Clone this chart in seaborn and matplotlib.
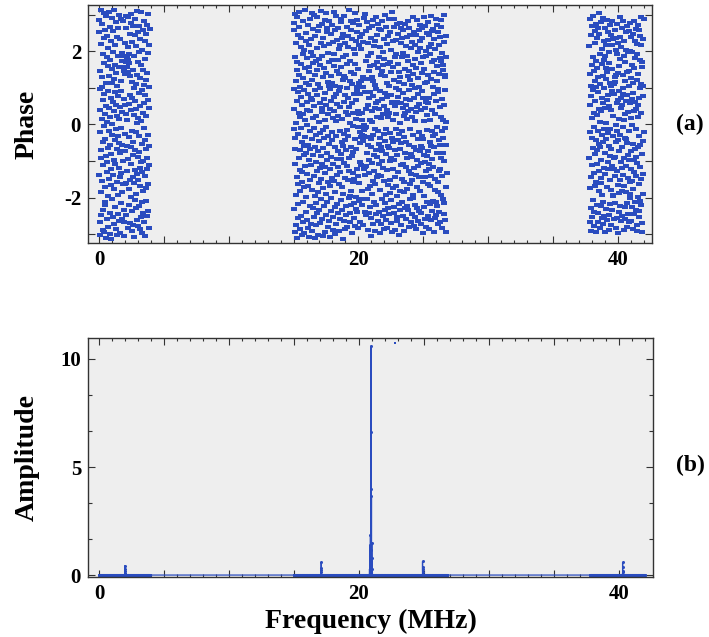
import numpy as np
import pandas as pd
import seaborn as sns
import matplotlib.pyplot as plt
from matplotlib.ticker import MultipleLocator, FixedLocator, FuncFormatter

# frequency bands that carry data (MHz)
band_start = [0.0, 15.0, 37.8]
band_stop = [3.9, 26.8, 42.0]

# phase values (rad), one per frequency bin of each band, read in order
phase_band1 = """
-1.37 2.84 2.51 -0.22 0.97 -2.66 -3.01 1.45 0.38 -1.84
2.19 -0.71 -0.93 -2.47 3.11 1.02 1.28 -1.56 0.14 2.73
-2.88 -2.35 0.66 1.91 -0.48 -1.12 2.36 3.04 -0.05 -2.94
0.83 1.67 -1.71 -0.39 2.58 -2.21 -2.12 0.29 1.14 -3.09
2.97 -0.86 0.51 -1.29 -1.03 1.83 2.42 -2.58 0.07 -0.64
1.59 2.09 -2.79 -1.95 0.92 -0.18 3.07 0.44 -1.48 1.33
-0.57 -2.41 -2.99 1.76 2.66 0.19 -1.21 -0.81 2.27 -1.66
0.71 -3.12 1.12 2.91 -0.29 -2.03 1.51 0.02 -1.39 2.55
-2.52 0.61 1.98 -0.97 -1.77 3.13 0.36 -2.71 1.24 -0.42
2.18 -1.09 -2.26 0.88 1.63 -0.13 -2.87 2.79 0.53 1.41
-1.58 -0.66 2.39 -3.03 0.24 1.05 -1.92 2.62 -0.33 -2.44
1.88 0.77 -1.18 -2.63 2.98 -0.51 0.15 1.57 -1.43 -2.96
0.47 2.32 -0.79 1.19 -2.16 -1.34 2.87 0.91 -0.09 -1.86
1.72 -0.55 -2.58 1.94 0.33 -1.63 -0.74 2.81 1.56 -1.01
1.46 -2.33 0.69 -2.68 1.88 -3.06 0.52 2.21 -0.26 1.37
-0.74 -1.63 2.95 1.69 -1.61 -2.48 0.27 2.64 1.83 -0.58
-1.27 1.58 0.12 2.11 -2.82 1.43 -0.94 1.76 2.94 -1.76
0.56 -2.19 1.92 -0.35 1.67 -1.53 2.48 0.81 -2.69 1.31
-0.62 2.77 -1.99 0.39 -1.08 3.02 -2.37 1.16 -0.17 -2.91
2.24 0.73 -1.45 -0.85 1.49 -2.74 2.68 -0.47 0.98 -1.61
-3.08 1.86 0.26 -2.07 2.45 -1.24 0.64 -0.69 2.89 -2.29
1.09 -1.91 0.41 2.15 -0.21 -2.61 1.35 -1.36 3.09 0.04
-0.88 -2.77 1.71 2.53 -1.52 0.18 -2.24 0.85 1.97 -0.76
2.69 -0.31 -1.19 -2.85 1.26 0.49 -1.69 2.34 -2.54 0.09
-1.04 1.61 3.06 -0.54 -2.13 0.94 2.02 -1.31 -2.97 1.48
0.31 -0.99 2.59 -1.81 -2.42 1.07 -0.11 2.83 -2.68 0.59
1.78 -1.41 -0.43 2.29 -3.04 0.79 1.21 -2.09 -0.68 2.47
-1.73 0.22 -2.51 1.39 2.71 -0.91 -1.22 0.67 3.01 -2.36
1.96 -0.28 -1.64 0.46 -2.83 2.16 -1.11 1.03 -0.59 2.61
"""

phase_band2 = """
0.42 0.97 -2.31 2.76 2.58 -0.14 1.83 -2.95 -1.07 3.02
-0.66 -0.38 1.19 -1.92 -2.74 2.21 0.05 0.63 -3.11 1.48
2.93 1.71 -1.45 -1.62 0.88 -0.27 2.44 -2.18 -2.56 0.31
-0.92 1.36 3.08 2.67 -1.24 -0.71 -2.87 1.02 0.19 -1.83
1.64 -2.49 -0.09 0.76 2.12 2.35 -1.58 -3.03 0.54 -0.48
-1.31 0.28 1.92 -2.66 -2.11 1.27 2.81 -0.59 -0.83 2.04
0.94 -1.72 -2.97 0.13 1.55 -0.35 -1.14 3.12 2.49 -2.39
2.27 1.13 -0.77 -1.98 0.61 -2.62 0.39 -1.36 1.81 -0.02
-2.83 2.72 0.84 -0.56 -1.69 1.44 -3.07 2.16 1.07 -0.97
1.58 -0.19 -2.24 2.87 0.36 -1.51 -0.68 1.99 -2.71 0.72
-1.12 2.33 1.21 -2.92 -0.41 0.67 3.05 -1.79 -2.28 1.67
0.17 -0.84 2.61 1.86 -1.41 -2.53 0.49 -0.11 2.98 -3.10
1.34 -1.95 -0.62 0.93 2.41 -2.15 -1.03 1.73 0.24 -2.76
-0.29 2.92 1.49 -1.27 -2.43 0.81 2.09 -0.73 -1.86 1.11
2.55 -3.01 0.07 -1.61 1.78 2.68 -0.46 -2.34 0.58 -1.19
-2.69 1.62 0.99 -0.24 -1.49 2.23 3.09 -2.05 -0.87 0.44
1.87 0.33 -2.58 -1.08 2.74 -0.65 1.29 -3.06 2.37 -0.16
-1.74 0.69 2.14 1.53 -2.22 -0.37 -1.17 2.85 0.12 -2.94
0.86 -1.33 -0.06 3.04 1.41 -2.47 -1.91 0.52 2.62 -0.78
-2.13 2.51 -0.98 0.27 -1.57 1.16 1.94 -2.81 -0.32 2.19
1.05 -0.53 -2.64 1.69 2.83 0.41 -1.22 -3.08 0.96 -1.68
2.46 -2.02 0.64 -0.89 1.32 -2.37 2.71 1.76 -0.22 -1.46
-0.43 1.12 -2.89 2.26 0.18 -1.09 -2.52 0.74 3.07 1.59
1.91 -1.55 0.37 -2.27 -0.61 2.58 1.04 -1.84 -2.99 0.09
-2.72 0.83 2.95 -0.31 1.47 -1.38 -2.18 2.31 0.55 -0.94
0.23 -2.41 1.77 -1.16 2.64 -0.74 0.92 -2.91 1.38 2.05
-1.64 2.18 -0.18 -2.59 1.02 0.47 -1.29 2.89 -0.81 -2.06
2.79 -0.95 1.56 0.14 -2.33 -1.71 2.36 -0.49 -3.12 1.22
-0.58 1.83 -1.89 2.48 0.62 -2.64 -0.27 1.31 -1.06 2.97
1.27 -2.86 0.79 -0.44 2.21 -1.47 -2.23 0.35 1.89 -0.71
-2.47 2.66 -1.13 1.64 -0.15 0.98 -2.79 2.12 -1.52 0.26
0.71 -0.33 2.42 -2.01 -1.26 3.11 0.48 -0.92 -2.68 1.74
-1.97 1.18 -2.42 0.04 2.57 -0.63 1.43 -1.81 2.83 -2.19
2.34 -0.87 0.58 -2.96 1.09 -1.34 2.76 0.31 -0.05 -1.58
-0.76 2.07 -1.48 1.37 -2.55 0.84 -2.14 1.93 3.03 -0.39
1.66 -2.78 0.16 -0.67 2.29 -1.99 0.66 -2.31 1.01 2.53
-2.38 0.94 2.86 -1.21 -0.08 1.52 -2.84 0.37 -1.42 2.18
0.29 -1.61 -2.09 2.71 1.14 -0.52 2.39 -2.67 0.82 -1.02
-0.21 -2.04 1.18 -0.35 2.07 -1.12 2.47 -0.28 0.11 -1.83
0.32 -2.19 -0.46 -2.76 1.03 -0.08 1.29 2.24 -0.15 -1.21
-0.31 2.91 -0.02 -1.17 -1.37 0.89 -2.39 -0.11 3.01 -0.06
1.73 -2.48 0.42 -1.13 2.56 -0.79 -2.03 1.24 -0.34 2.79
-1.76 0.53 1.88 -2.89 -0.57 2.22 -1.33 0.71 -2.42 1.46
2.63 -0.96 -1.69 0.13 1.59 -2.26 0.88 -0.61 -3.04 2.37
-0.41 1.96 -2.57 2.69 -1.05 0.36 -1.89 1.28 0.06 -2.73
1.19 -1.54 0.77 -0.29 2.84 -2.11 1.63 -0.84 2.13 -1.27
-2.92 0.45 2.27 -1.62 -0.14 1.08 -2.46 2.93 0.59 -0.69
0.97 -2.21 -0.88 1.71 2.45 -1.43 0.21 -2.63 1.54 -0.18
-1.38 2.74 0.64 -2.38 -0.53 1.85 -1.08 0.43 2.61 -2.97
2.11 -0.37 -1.79 0.91 -2.72 2.58 0.17 -1.41 -0.63 1.36
-0.72 1.47 2.82 -2.04 0.68 -0.99 -2.51 1.97 -1.18 0.28
1.63 -2.87 -0.26 2.34 -1.55 0.51 1.78 -2.33 2.99 -0.45
-2.16 0.86 1.31 -0.82 -1.92 2.67 -0.13 -2.61 1.12 0.74
0.39 -1.24 2.19 -2.83 1.66 -0.58 -1.66 2.42 0.19 -2.28
2.87 -0.64 -2.44 1.04 0.32 -1.87 2.52 -1.01 -0.23 1.69
-1.51 2.03 0.81 -2.69 -0.91 1.42 -2.06 0.57 3.06 -0.36
0.62 -2.94 1.57 -0.47 2.28 -1.23 0.12 -1.74 2.66 -2.41
-0.98 1.22 -2.25 2.88 0.49 -0.71 -2.88 1.83 -1.44 0.99
2.31 -1.67 0.27 -0.12 1.91 -2.53 2.74 -0.85 -1.96 0.61
-2.63 0.76 2.48 -1.31 -0.42 1.65 -2.17 0.95 1.43 -3.02
1.16 -0.26 -1.83 2.77 0.03 -2.35 1.29 -0.67 2.21 -1.12
-0.51 2.62 -2.74 0.58 1.84 -1.49 -0.17 2.36 -2.12 0.87
1.94 -1.07 0.44 -2.49 2.57 -0.34 -1.58 1.09 -2.92 0.23
-1.86 0.31 2.73 -0.78 -2.29 1.52 0.69 -1.16 2.14 -0.48
0.54 -2.58 -0.93 1.87 2.39 -1.76 0.15 -2.22 1.33 2.83
-2.34 1.73 0.36 -1.28 -2.79 0.93 2.62 -0.55 1.46 -1.63
2.45 -0.13 -2.03 0.66 1.21 -2.68 -0.81 2.08 -1.36 0.42
-0.88 2.26 1.07 -2.46 0.19 -1.53 2.93 -0.29 -2.01 1.61
1.38 -1.93 -0.61 2.51 -2.77 0.72 -1.19 1.79 0.08 -2.54
-2.19 0.98 2.17 -0.69 1.55 -1.38 -2.86 2.44 0.34 -0.97
0.47 -1.72 2.86 -2.28 -0.39 1.26 0.83 -2.64 1.98 -1.14
-1.45 2.59 -0.22 1.03 -2.37 0.55 2.72 -1.81 -0.73 2.29
2.08 -0.59 -2.72 0.39 1.68 -1.06 -2.43 2.63 0.91 -0.32
-0.65 1.39 2.36 -1.58 -2.98 0.71 -0.41 1.85 -1.97 2.94
1.51 -2.27 0.08 -0.83 2.68 -1.44 1.13 -2.59 0.46 -1.04
-2.81 2.01 -1.26 0.61 1.88 -0.16 -2.13 2.49 -0.87 1.17
0.26 -0.74 -1.64 2.79 -2.49 1.35 0.57 -1.22 2.12 -2.85
-1.09 2.43 0.72 -2.17 -0.47 1.91 -1.69 0.11 2.96 -0.58
2.19 -1.42 -2.62 1.24 0.38 -0.94 2.55 -2.36 1.69 -0.19
-0.33 1.01 -2.09 2.61 -1.17 0.84 -2.93 1.44 -0.62 2.32
1.76 -2.56 0.29 -1.49 2.06 -0.26 -1.78 2.87 0.63 -2.11
-2.48 0.64 1.59 -0.79 -2.24 2.71 -0.06 1.19 -1.58 0.96
0.89 -1.86 2.53 -2.71 1.37 -0.44 2.18 -1.27 -2.39 1.81
-1.21 2.38 -0.57 0.47 -2.67 1.72 -0.93 2.84 0.21 -1.94
2.67 -0.18 -1.41 1.96 0.69 -2.83 1.48 -0.38 -2.04 0.13
-0.79 1.62 2.99 -2.14 -1.01 0.52 -2.44 2.25 -0.11 1.36
1.29 -2.61 0.94 -0.55 2.41 -1.71 0.06 -2.95 1.85 -1.32
"""

phase_band3 = """
2.14 -0.93 -2.67 1.38 0.52 -1.74 2.88 -0.21 1.06 -2.29
-1.45 0.77 2.43 -2.91 -0.37 1.61 -1.12 2.69 0.18 -2.53
0.94 -2.06 1.83 -0.64 2.97 -1.33 0.31 -2.78 1.47 -0.08
-2.38 1.19 -0.82 2.56 -1.67 0.63 2.21 -2.95 -0.44 1.72
1.01 -1.58 2.74 0.26 -2.19 -0.71 1.54 -1.09 2.35 -2.66
-0.19 2.62 -2.42 0.88 1.29 -1.81 -0.53 3.04 -1.26 0.41
2.48 -0.61 1.11 -2.84 0.07 1.92 -1.47 -2.23 2.79 -0.96
-1.61 0.36 -2.57 2.07 1.66 -0.28 -1.94 0.72 2.91 -2.12
0.59 -2.71 1.32 -0.47 2.27 -1.18 0.99 -2.49 1.76 -0.14
-2.93 1.87 0.44 -1.36 2.63 -0.77 -2.31 1.24 0.03 2.18
1.54 -0.39 -1.72 2.86 -2.61 0.67 1.43 -1.03 -0.24 2.52
-1.22 2.31 0.81 -2.47 -0.58 1.97 -2.88 0.49 1.68 -0.86
2.72 -1.51 -0.12 1.14 -2.18 2.44 0.38 -1.79 -2.74 1.06
-0.67 0.92 2.16 -2.33 1.51 -1.14 2.81 -0.33 -1.92 0.24
1.13 -1.97 2.32 -2.58 1.09 0.84 -0.93 -1.21 2.58 1.17
-2.14 1.28 -0.89 -1.41 2.02 -2.82 1.36 -0.03 -0.49 2.36
1.91 -1.27 0.58 -2.56 2.74 -0.18 -1.66 1.41 -2.97 0.67
-0.42 2.23 -1.88 0.16 1.59 -2.39 0.91 -0.72 2.93 -1.53
2.39 -2.24 -0.29 1.79 -1.03 0.46 -2.64 2.11 0.73 -1.19
-1.83 0.54 2.64 -0.62 -2.51 1.34 -0.07 2.82 -1.37 0.98
0.83 -1.69 -2.89 2.29 0.11 -0.91 1.86 -2.26 1.18 -0.36
-2.59 1.71 0.29 -1.13 2.51 -1.85 0.64 -0.41 2.04 -2.79
1.44 -0.52 -2.16 0.79 2.69 -1.46 -0.83 1.99 -2.45 0.35
-0.98 2.54 1.05 -2.68 -0.19 1.46 -1.58 2.77 0.57 -2.01
2.01 -1.91 0.17 -0.74 2.38 -2.63 1.27 -1.21 -0.03 1.63
-2.27 0.69 1.98 -1.54 -2.86 0.87 2.47 -0.54 1.12 -1.77
0.37 -2.44 2.83 -0.97 1.53 -1.31 -2.12 0.62 2.27 -0.68
1.81 -0.13 -1.42 2.61 -2.33 0.43 -0.89 1.91 -2.92 1.22
-1.06 2.19 -2.76 0.54 1.37 -0.61 2.71 -1.98 0.21 -2.37
2.58 -1.63 0.73 -0.31 -2.54 1.76 -1.17 2.42 0.98 -2.09
-0.57 1.11 2.17 -2.21 -1.48 2.94 0.32 -0.81 1.58 -2.69
1.69 -2.93 -0.46 1.04 2.32 -1.89 0.77 -1.35 2.89 -0.22
"""

# amplitude spectrum: flat noise floor inside the bands plus narrow spikes
noise_floor = 0.02
spike_freq = [2.0, 2.0, 2.0, 2.0,
              17.1, 17.1, 17.1, 17.1,
              20.82, 20.85, 20.87, 20.89, 20.91, 20.93, 20.94,
              20.96, 20.97, 20.99, 21.01, 21.04,
              24.9, 24.9, 24.9, 24.9,
              40.3, 40.3, 40.3, 40.3]
spike_amp = [0.12, 0.30, 0.45, 0.20,
             0.15, 0.35, 0.60, 0.25,
             0.30, 0.90, 1.40, 1.85, 1.20, 10.60, 6.63,
             3.98, 3.66, 1.50, 0.80, 0.30,
             0.18, 0.40, 0.65, 0.28,
             0.15, 0.38, 0.60, 0.22]
stray_freq = [22.8]
stray_amp = [10.75]

BLUE = '#2a4cbf'
BG = '#eeeeee'
DASH = [(-1.4, -1.0), (1.4, -1.0), (1.4, 1.0), (-1.4, 1.0)]

sns.set_style('ticks')
plt.rcParams['font.family'] = ['Liberation Serif', 'DejaVu Serif']
plt.rcParams['font.weight'] = 'bold'
plt.rcParams['text.color'] = 'black'
plt.rcParams['axes.labelcolor'] = 'black'

frames = []
for lo, hi, txt in zip(band_start, band_stop, [phase_band1, phase_band2, phase_band3]):
    ph = np.array(txt.split(), dtype=float)
    frames.append(pd.DataFrame({'freq': np.linspace(lo, hi, len(ph)), 'phase': ph}))
phase_df = pd.concat(frames, ignore_index=True)

amp_df = pd.concat([
    pd.DataFrame({'freq': phase_df['freq'], 'amp': noise_floor}),
    pd.DataFrame({'freq': spike_freq, 'amp': spike_amp}),
], ignore_index=True).sort_values('freq', kind='stable')

fig = plt.figure(figsize=(7.09, 6.37), dpi=100)
ax1 = fig.add_axes([88 / 709, 1 - 243 / 637, 564 / 709, 238 / 637])
ax2 = fig.add_axes([88 / 709, 1 - 577 / 637, 565 / 709, 239 / 637])

sns.scatterplot(data=phase_df, x='freq', y='phase', ax=ax1, color=BLUE,
                marker=DASH, s=15, linewidth=0, legend=False)

sns.lineplot(data=amp_df, x='freq', y='amp', ax=ax2, color=BLUE,
             estimator=None, sort=False, lw=0.9, marker='o',
             markersize=2.2, markeredgewidth=0)
sns.scatterplot(x=stray_freq, y=stray_amp, ax=ax2, color=BLUE,
                marker='s', s=4, linewidth=0)

label_every20 = FuncFormatter(lambda v, p: f'{v:.0f}' if abs(v % 20) < 1e-6 else '')

for ax in (ax1, ax2):
    ax.set_facecolor(BG)
    ax.set_xlim(-0.85, 42.64)
    ax.xaxis.set_major_locator(MultipleLocator(5))
    ax.xaxis.set_minor_locator(MultipleLocator(1))
    ax.xaxis.set_major_formatter(label_every20)
    ax.tick_params(which='both', direction='in', top=True, right=True,
                   colors='#333333', labelcolor='black', labelsize=15, width=0.8)
    ax.tick_params(which='major', length=5, pad=5)
    ax.tick_params(which='minor', length=2.5)
    for sp in ax.spines.values():
        sp.set_visible(True)
        sp.set_color('#333333')
        sp.set_linewidth(1.0)

ax1.set_ylim(-3.24, 3.26)
ax1.yaxis.set_major_locator(MultipleLocator(1))
ax1.yaxis.set_major_formatter(FuncFormatter(
    lambda v, p: f'{v:.0f}' if abs(v % 2) < 1e-6 else ''))
ax1.yaxis.set_minor_locator(FixedLocator([]))

ax2.set_ylim(-0.07, 10.97)
ax2.yaxis.set_major_locator(FixedLocator([0, 5, 10]))
ax2.yaxis.set_minor_locator(FixedLocator([5 / 3, 10 / 3, 20 / 3, 25 / 3]))
ax2.tick_params(axis='y', which='minor', length=3)

for ax in (ax1, ax2):
    for lab in ax.get_xticklabels() + ax.get_yticklabels():
        lab.set_fontweight('bold')

ax1.set_xlabel('')
ax1.set_ylabel('Phase', fontsize=20, fontweight='bold', va='center')
ax1.yaxis.set_label_coords(-0.108, 0.5)
ax2.set_ylabel('Amplitude', fontsize=20, fontweight='bold', va='center')
ax2.yaxis.set_label_coords(-0.108, 0.5)
ax2.set_xlabel('Frequency (MHz)', fontsize=20, fontweight='bold', va='center')
ax2.xaxis.set_label_coords(0.5, -0.185)

fig.text(690 / 709, 1 - 124 / 637, '(a)', fontsize=17, fontweight='bold',
         ha='center', va='center')
fig.text(690 / 709, 1 - 465 / 637, '(b)', fontsize=17, fontweight='bold',
         ha='center', va='center')

fig.savefig('out.png', dpi=100)
